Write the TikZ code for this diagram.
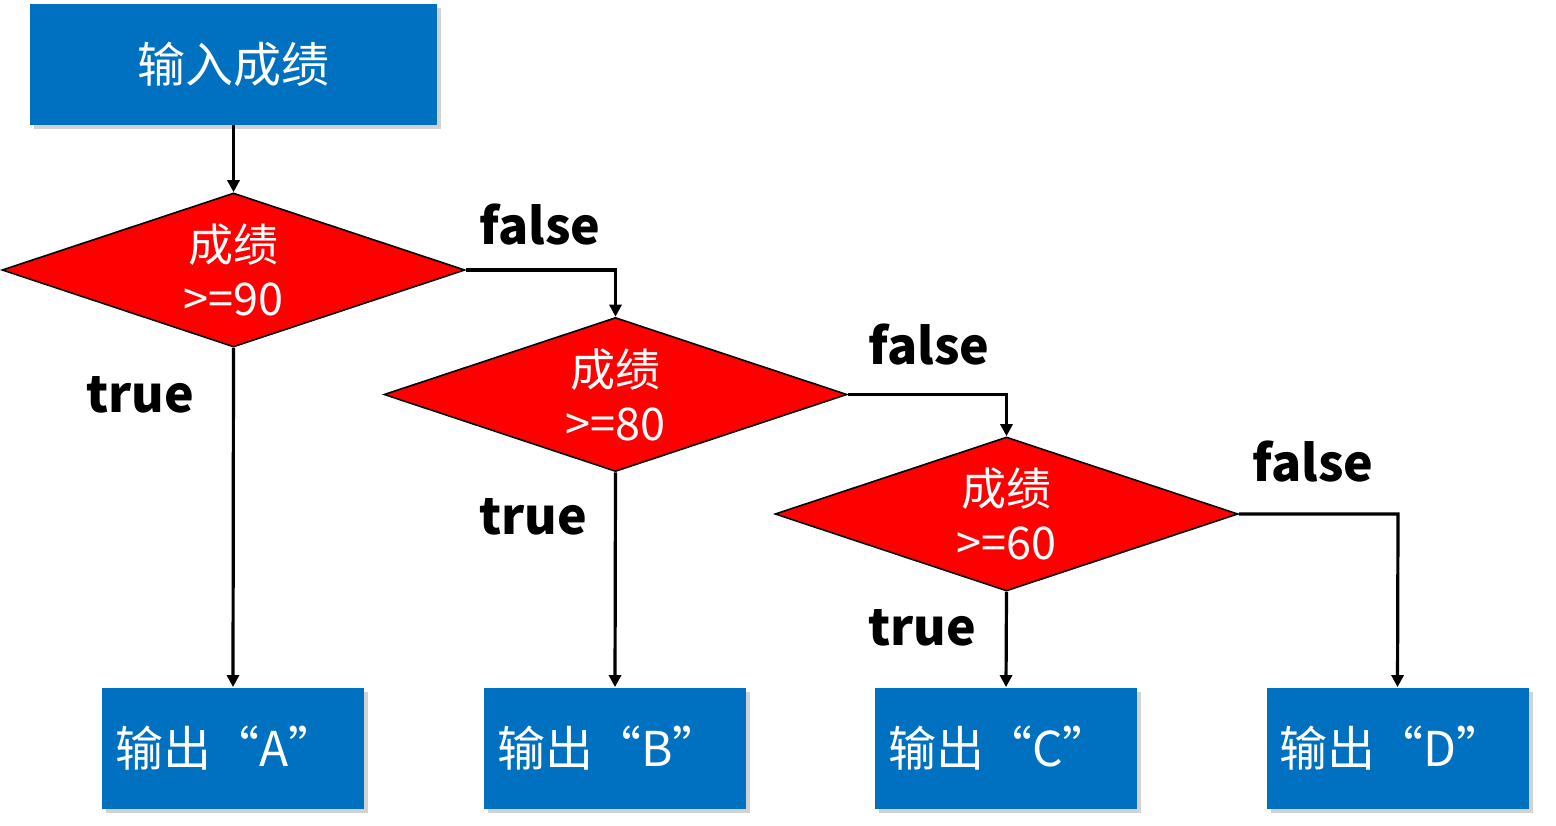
\documentclass[tikz,border=0pt]{standalone}
\usepackage{fontspec}
\setmainfont{Noto Sans CJK SC}
\usetikzlibrary{shapes.geometric,shadows,arrows.meta}
\definecolor{boxblue}{HTML}{0070C0}
\begin{document}
\begin{tikzpicture}[x=0.5pt,y=-0.5pt,
  bluebox/.style={fill=boxblue,draw=none,minimum height=60.5pt,inner sep=0,text=white,font=\fontsize{24}{28}\selectfont,drop shadow={shadow xshift=2pt,shadow yshift=-2pt,fill=black!35}},
  dia/.style={shape=diamond,fill=red,draw=black,line width=0.8pt,inner sep=0,minimum width=231.5pt,minimum height=77pt},
  dtext/.style={text=white,font=\fontsize{22.5}{27}\selectfont,align=center},
  lab/.style={font=\fontsize{25}{30}\selectfont\bfseries},
  conn/.style={draw=black,line width=1.6pt,-{Triangle[length=6pt,width=6pt]}}]
\useasboundingbox (0,0) rectangle (1556,825);
\node[bluebox,minimum width=203.5pt] (in) at (233.5,64.5) {输入成绩};
\node[dia] (d1) at (233.5,270) {};
\node[dtext] (t1) at (233.5,270) {成绩\\>=90};
\node[dia] (d2) at (615.5,394.5) {};
\node[dtext] (t2) at (615.5,394.5) {成绩\\>=80};
\node[dia] (d3) at (1006.5,514) {};
\node[dtext] (t3) at (1006.5,514) {成绩\\>=60};
\node[bluebox,minimum width=131pt] (oa) at (233,748) {};
\node[bluebox,minimum width=131pt] (ob) at (615,748) {};
\node[bluebox,minimum width=131pt] (oc) at (1006,748) {};
\node[bluebox,minimum width=131pt] (od) at (1397.5,748) {};
\foreach \b/\l in {oa/A,ob/B,oc/C,od/D}
  \node[anchor=west,text=white,font=\fontsize{24}{28}\selectfont,inner sep=0] (\b t) at ([xshift=6.5pt]\b.west) {输出“\l”};
\coordinate (c1) at (615.5,270);
\coordinate (c2) at (1006.5,394.5);
\coordinate (c3) at (1398,514);
\draw[conn] (in.south) -- (d1.north);
\draw[conn] (d1.south) -- (oa.north);
\draw[conn] (d1.east) -- (c1) -- (d2.north);
\draw[conn] (d2.south) -- (ob.north);
\draw[conn] (d2.east) -- (c2) -- (d3.north);
\draw[conn] (d3.south) -- (oc.north);
\draw[conn] (d3.east) -- (c3) -- (od.north);
\node[lab] (f1) at (540,225) {false};
\node[lab] (f2) at (929,345) {false};
\node[lab] (f3) at (1313,462) {false};
\node[lab] (r1) at (140,395) {true};
\node[lab] (r2) at (533,517) {true};
\node[lab] (r3) at (922,628) {true};
\end{tikzpicture}
\end{document}
